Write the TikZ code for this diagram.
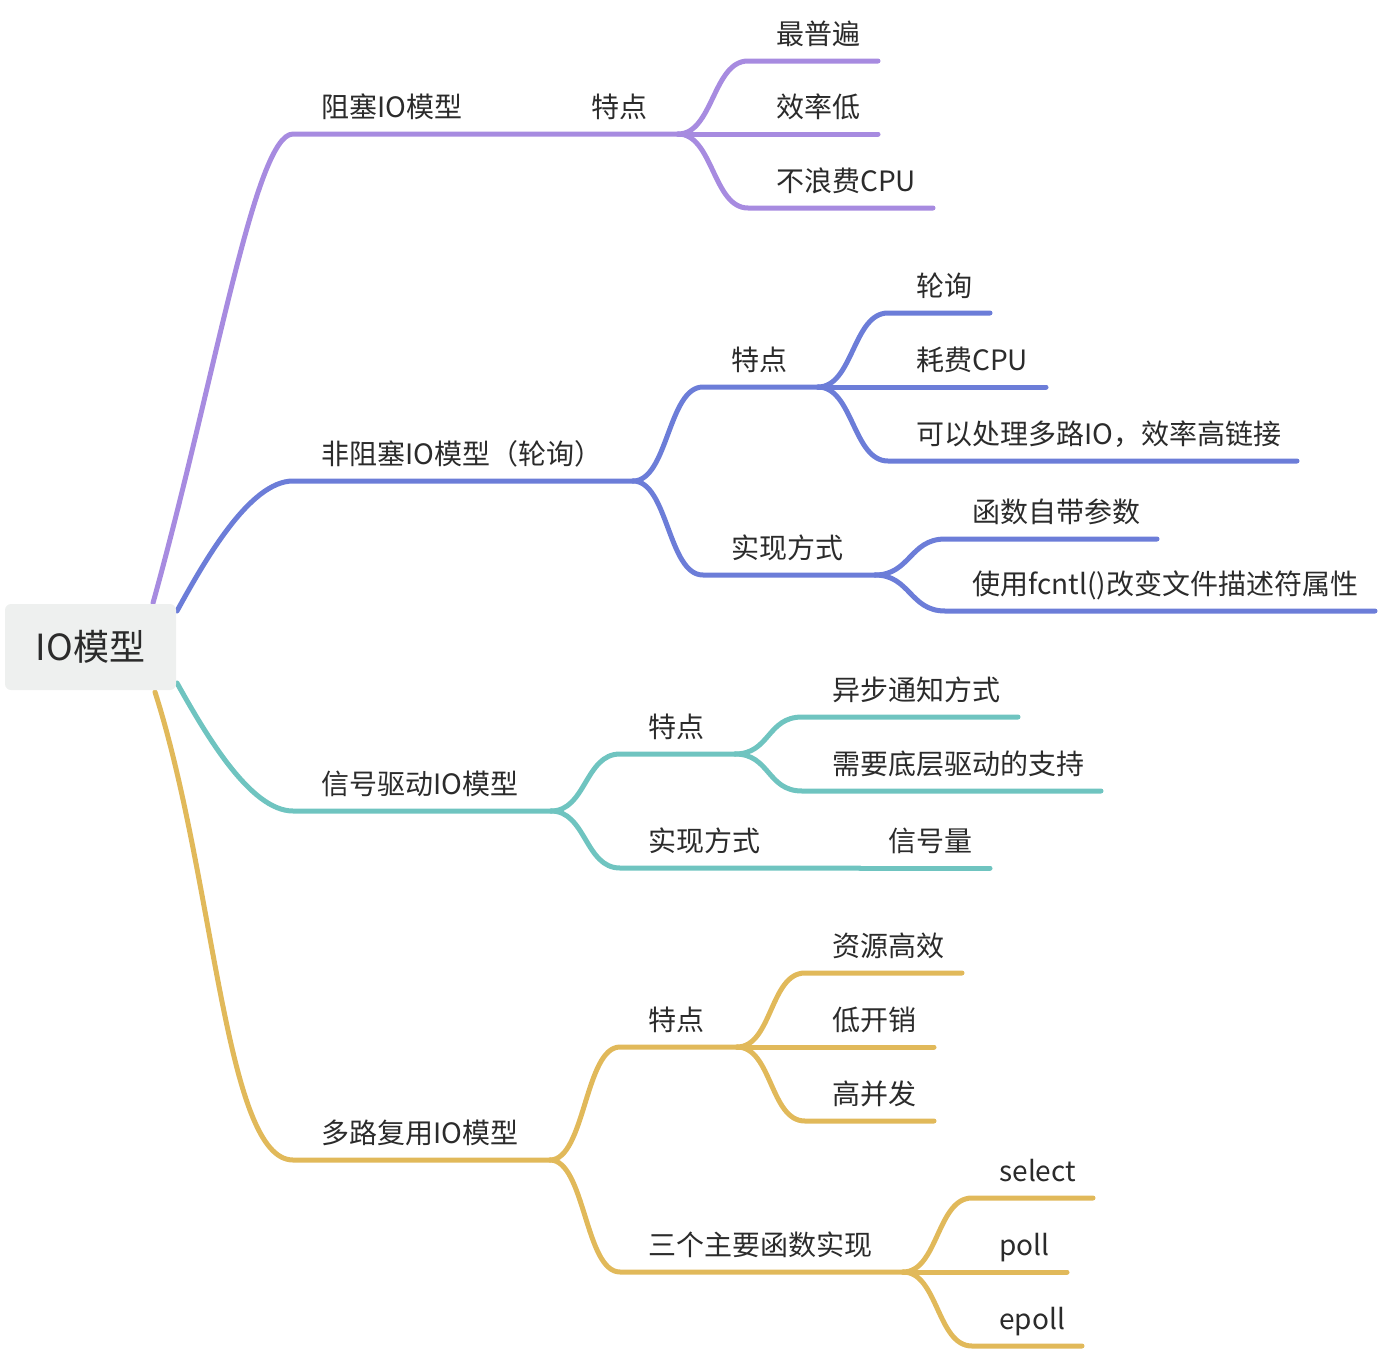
\documentclass[tikz,border=0pt]{standalone}
\usepackage{fontspec}
\setmainfont{Noto Sans CJK SC}
\definecolor{cP}{HTML}{A78BE0}
\definecolor{cB}{HTML}{6C7DD8}
\definecolor{cT}{HTML}{6FC4C0}
\definecolor{cY}{HTML}{E1B95A}
\definecolor{rootfill}{HTML}{EEF0EF}
\definecolor{txt}{HTML}{2B2B2B}
\pgfdeclarelayer{bg}
\pgfsetlayers{bg,main}
\begin{document}
\begin{tikzpicture}[x=0.5pt,y=-0.5pt,
  link/.style={line width=2.5pt,line cap=round},
  lbl/.style={anchor=base west,inner sep=0pt,text=txt,font=\fontsize{14pt}{16pt}\selectfont},
  rootbox/.style={fill=rootfill,rounded corners=3pt,minimum width=85.5pt,minimum height=43pt,inner sep=0pt,text=txt,font=\fontsize{18pt}{20pt}\selectfont},
  sub/.style={controls},
]
\useasboundingbox (0,0) rectangle (1378,1350);

% root
\node[rootbox] (root) at (90.5,647) {IO模型};

% ---------- labels ----------
% purple
\node[lbl] (A)   at (321,117) {阻塞IO模型};
\node[lbl] (A1)  at (591,117) {特点};
\node[lbl] (A11) at (776,44)  {最普遍};
\node[lbl] (A12) at (776,117) {效率低};
\node[lbl] (A13) at (776,191) {不浪费CPU};
% blue
\node[lbl] (B)   at (321,464) {非阻塞IO模型（轮询）};
\node[lbl] (B1)  at (731,370) {特点};
\node[lbl] (B11) at (916,296) {轮询};
\node[lbl] (B12) at (916,370) {耗费CPU};
\node[lbl] (B13) at (916,444) {可以处理多路IO，效率高链接};
\node[lbl] (B2)  at (731,558) {实现方式};
\node[lbl] (B21) at (972,522) {函数自带参数};
\node[lbl] (B22) at (972,594) {使用fcntl()改变文件描述符属性};
% teal
\node[lbl] (C)   at (321,794) {信号驱动IO模型};
\node[lbl] (C1)  at (648,737) {特点};
\node[lbl] (C11) at (832,700) {异步通知方式};
\node[lbl] (C12) at (832,774) {需要底层驱动的支持};
\node[lbl] (C2)  at (648,851) {实现方式};
\node[lbl] (C21) at (888,851) {信号量};
% yellow
\node[lbl] (D)   at (321,1143) {多路复用IO模型};
\node[lbl] (D1)  at (648,1030) {特点};
\node[lbl] (D11) at (832,956)  {资源高效};
\node[lbl] (D12) at (832,1030) {低开销};
\node[lbl] (D13) at (832,1104) {高并发};
\node[lbl] (D2)  at (648,1255) {三个主要函数实现};
\node[lbl] (D21) at (999,1181) {select};
\node[lbl] (D22) at (999,1255) {poll};
\node[lbl] (D23) at (999,1329) {epoll};

% ---------- connector points ----------
\coordinate (pS)  at (153,603);
\coordinate (pA)  at (293,134);
\coordinate (pAJ) at (678,134);
\coordinate (pA11) at (748,61);   \coordinate (eA11) at (878,61);
\coordinate (eA12) at (878,134);
\coordinate (pA13) at (748,208);  \coordinate (eA13) at (933,208);

\coordinate (bS)  at (177,611);
\coordinate (pB)  at (293,481);
\coordinate (pBJ) at (633,481);
\coordinate (pB1) at (703,387);   \coordinate (pB1J) at (818,387);
\coordinate (pB11) at (888,313);  \coordinate (eB11) at (990,313);
\coordinate (eB12) at (1046,387);
\coordinate (pB13) at (888,461);  \coordinate (eB13) at (1297,461);
\coordinate (pB2) at (703,575);   \coordinate (pB2J) at (875,575);
\coordinate (pB21) at (945,539);  \coordinate (eB21) at (1157,539);
\coordinate (pB22) at (945,611);  \coordinate (eB22) at (1375,611);

\coordinate (cS)  at (177,683);
\coordinate (pC)  at (293,811);
\coordinate (pCJ) at (551,811);
\coordinate (pC1) at (620,754);   \coordinate (pC1J) at (735,754);
\coordinate (pC11) at (802,717);  \coordinate (eC11) at (1018,717);
\coordinate (pC12) at (802,791);  \coordinate (eC12) at (1101,791);
\coordinate (pC2) at (620,868);   \coordinate (pC2J) at (860,868);
\coordinate (eC21) at (990,868);

\coordinate (dS)  at (155,692);
\coordinate (pD)  at (293,1160);
\coordinate (pDJ) at (550,1160);
\coordinate (pD1) at (620,1047);  \coordinate (pD1J) at (737,1047);
\coordinate (pD11) at (805,973);  \coordinate (eD11) at (962,973);
\coordinate (eD12) at (934,1047);
\coordinate (pD13) at (805,1121); \coordinate (eD13) at (934,1121);
\coordinate (pD2) at (620,1272);  \coordinate (pD2J) at (903,1272);
\coordinate (pD21) at (972,1198); \coordinate (eD21) at (1093,1198);
\coordinate (eD22) at (1067,1272);
\coordinate (pD23) at (972,1346); \coordinate (eD23) at (1082,1346);

\begin{pgfonlayer}{bg}
% purple
\draw[link,cP] (pS) .. controls +(62,-223) and +(-38,0) .. (pA) -- (pAJ);
\draw[link,cP] (pAJ) .. controls +(35,0) and +(-35,0) .. (pA11) -- (eA11);
\draw[link,cP] (pAJ) -- (eA12);
\draw[link,cP] (pAJ) .. controls +(35,0) and +(-35,0) .. (pA13) -- (eA13);
% blue
\draw[link,cB] (bS) .. controls +(28,-51) and +(-43,0) .. (pB) -- (pBJ);
\draw[link,cB] (pBJ) .. controls +(35,0) and +(-35,0) .. (pB1) -- (pB1J);
\draw[link,cB] (pB1J) .. controls +(35,0) and +(-35,0) .. (pB11) -- (eB11);
\draw[link,cB] (pB1J) -- (eB12);
\draw[link,cB] (pB1J) .. controls +(35,0) and +(-35,0) .. (pB13) -- (eB13);
\draw[link,cB] (pBJ) .. controls +(35,0) and +(-35,0) .. (pB2) -- (pB2J);
\draw[link,cB] (pB2J) .. controls +(35,0) and +(-35,0) .. (pB21) -- (eB21);
\draw[link,cB] (pB2J) .. controls +(35,0) and +(-35,0) .. (pB22) -- (eB22);
% teal
\draw[link,cT] (cS) .. controls +(28,50) and +(-43,0) .. (pC) -- (pCJ);
\draw[link,cT] (pCJ) .. controls +(35,0) and +(-35,0) .. (pC1) -- (pC1J);
\draw[link,cT] (pC1J) .. controls +(35,0) and +(-35,0) .. (pC11) -- (eC11);
\draw[link,cT] (pC1J) .. controls +(35,0) and +(-35,0) .. (pC12) -- (eC12);
\draw[link,cT] (pCJ) .. controls +(35,0) and +(-35,0) .. (pC2) -- (pC2J);
\draw[link,cT] (pC2J) -- (eC21);
% yellow
\draw[link,cY] (dS) .. controls +(60,188) and +(-68,0) .. (pD) -- (pDJ);
\draw[link,cY] (pDJ) .. controls +(35,0) and +(-35,0) .. (pD1) -- (pD1J);
\draw[link,cY] (pD1J) .. controls +(35,0) and +(-35,0) .. (pD11) -- (eD11);
\draw[link,cY] (pD1J) -- (eD12);
\draw[link,cY] (pD1J) .. controls +(35,0) and +(-35,0) .. (pD13) -- (eD13);
\draw[link,cY] (pDJ) .. controls +(35,0) and +(-35,0) .. (pD2) -- (pD2J);
\draw[link,cY] (pD2J) .. controls +(35,0) and +(-35,0) .. (pD21) -- (eD21);
\draw[link,cY] (pD2J) -- (eD22);
\draw[link,cY] (pD2J) .. controls +(35,0) and +(-35,0) .. (pD23) -- (eD23);
\end{pgfonlayer}
\end{tikzpicture}
\end{document}
